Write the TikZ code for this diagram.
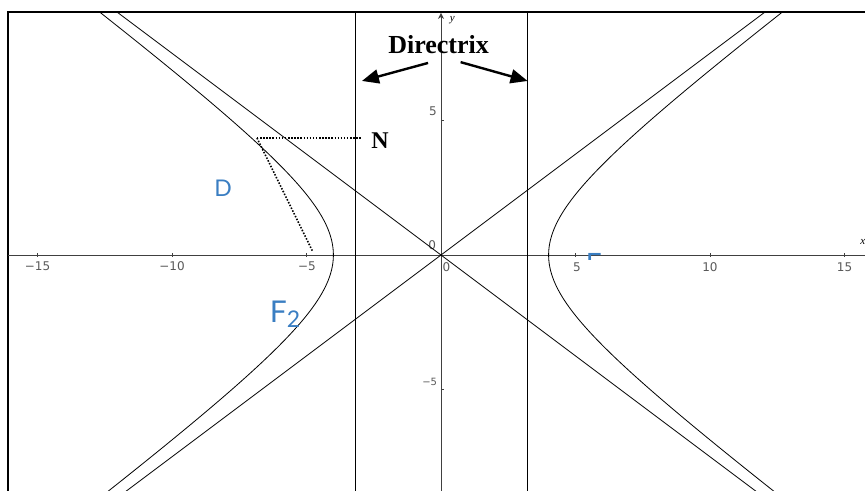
\documentclass[tikz,border=0pt]{standalone}
\usepackage{fontspec}
\setmainfont{Liberation Serif}
\newfontfamily\latofont{Lato}
\newfontfamily\tickfont{DejaVu Sans}
\usetikzlibrary{arrows.meta}
\definecolor{lblblue}{RGB}{58,126,194}
\tikzset{
  curve/.style={line width=0.8bp, black},
  axisline/.style={line width=0.9bp, black!75},
  frameline/.style={line width=2.2bp, black},
  ticklbl/.style={font=\tickfont\fontsize{12bp}{13bp}\selectfont, text=black!65, inner sep=0pt},
  bluelbl/.style={text=lblblue, inner sep=0pt},
  dotline/.style={line width=1.6bp, dash pattern=on 1.5bp off 1.6bp},
  pointer/.style={line width=2.4bp, -{Triangle[length=17bp,width=14bp]}},
  boldlbl/.style={font=\bfseries, inner sep=0pt}
}
\begin{document}
\begin{tikzpicture}[x=26.9bp, y=26.9bp]
\useasboundingbox (-16.394,-8.736) rectangle (15.762,9.480);
% frame
\draw[frameline] (-16.097,-9) -- (-16.097,9.033) -- (16,9.033);
% axes
\draw[axisline] (-16.097,0) -- (16,0);
\draw[axisline, -{Stealth[length=6bp,width=6bp]}] (0,-9) -- (0,9.0);
\foreach \t in {-15,-10,-5,5,10,15} \draw[axisline] (\t,-0.07) -- (\t,0.07);
\foreach \t in {-5,5} \draw[axisline] (0,\t) -- (0.12,\t);
% tick labels
\node[ticklbl] (xm15) at (-15,-0.42) {−15};
\node[ticklbl] (xm10) at (-10,-0.42) {−10};
\node[ticklbl] (xm5) at (-4.98,-0.42) {−5};
\node[ticklbl] (x0) at (0.2,-0.44) {0};
\node[ticklbl] (o0) at (-0.33,0.37) {0};
\node[ticklbl] (x5) at (5.05,-0.44) {5};
\node[ticklbl] (x10) at (10,-0.44) {10};
\node[ticklbl] (x15) at (15,-0.44) {15};
\node[ticklbl] (y5) at (-0.3,5.35) {5};
\node[ticklbl, font=\tickfont\fontsize{10bp}{11bp}\selectfont] (ym5) at (-0.42,-4.72) {−5};
\node[inner sep=0pt, font=\itshape\fontsize{11bp}{12bp}\selectfont] (ylab) at (0.42,8.74) {y};
\node[inner sep=0pt, font=\itshape\fontsize{11bp}{12bp}\selectfont] (xlab) at (15.68,0.47) {x};
% curves
\begin{scope}
\clip (-16.097,-9) rectangle (16,9.033);
\draw[curve] plot[domain=-1.95:1.95, samples=120, variable=\t] ({-4*cosh(\t)},{3*sinh(\t)});
\draw[curve] plot[domain=-1.95:1.95, samples=120, variable=\t] ({4*cosh(\t)},{3*sinh(\t)});
\draw[curve] (-13,-9.75) -- (13,9.75);
\draw[curve] (-13,9.75) -- (13,-9.75);
\end{scope}
% directrices
\draw[curve] (-3.2,-9) -- (-3.2,9.033);
\draw[curve] (3.2,-9) -- (3.2,9.033);
% directrix label and arrows
\node[boldlbl, font=\bfseries\fontsize{26bp}{28bp}\selectfont] (dir) at (-0.09,7.84) {Directrix};
\coordinate (dl) at (-0.48,7.14);
\coordinate (dr) at (0.73,7.17);
\coordinate (tl) at (-2.94,6.47);
\coordinate (tr) at (3.22,6.47);
\draw[pointer] (dl) -- (tl);
\draw[pointer] (dr) -- (tr);
% point, N, dotted lines
\coordinate (P) at (-6.84,4.35);
\coordinate (Nend) at (-2.955,4.35);
\coordinate (F2pt) at (-4.76,0.11);
\draw[dotline] (P) -- (Nend);
\draw[dotline] (P) -- (F2pt);
\node[boldlbl, font=\bfseries\fontsize{24bp}{26bp}\selectfont] (N) at (-2.27,4.24) {N};
% blue labels
\node[bluelbl, font=\latofont\fontsize{23bp}{25bp}\selectfont] (D) at (-8.10,2.49) {D};
\node[bluelbl, font=\latofont\fontsize{30bp}{32bp}\selectfont] (F2) at (-5.80,-2.2) {F\raisebox{-5bp}{\fontsize{23bp}{25bp}\selectfont 2}};
\begin{scope}
\clip (5.3,0.09) rectangle (6.2,-0.165);
\node[bluelbl, anchor=north west, font=\latofont\fontsize{28bp}{30bp}\selectfont] (F1) at (5.38,0.08) {F};
\end{scope}
\end{tikzpicture}
\end{document}
